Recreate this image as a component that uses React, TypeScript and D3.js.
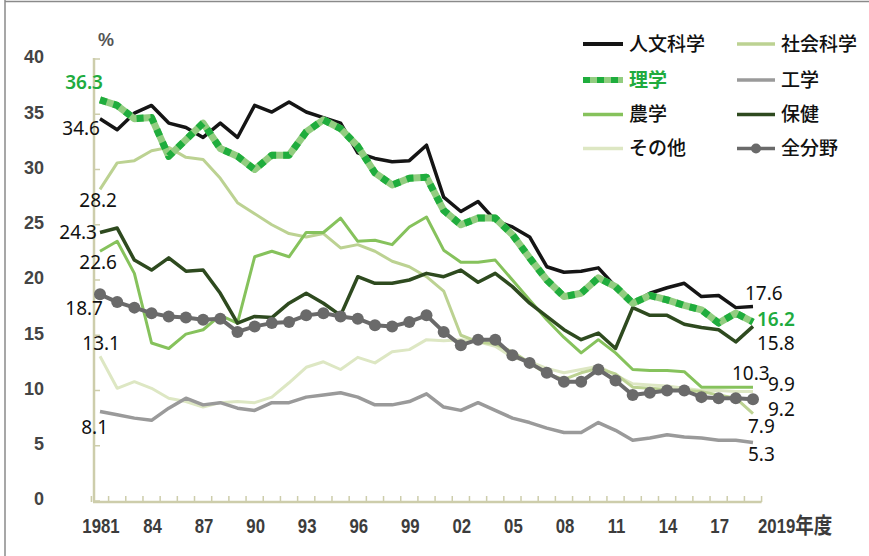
import React from "react";
import * as d3 from "d3";

const years = [1981,1982,1983,1984,1985,1986,1987,1988,1989,1990,1991,1992,1993,1994,1995,1996,1997,1998,1999,2000,2001,2002,2003,2004,2005,2006,2007,2008,2009,2010,2011,2012,2013,2014,2015,2016,2017,2018,2019];

const humanities = [34.6,33.6,35.1,35.8,34.2,33.8,32.9,34.2,32.9,35.8,35.2,36.1,35.2,34.7,34.2,31.5,31.0,30.7,30.8,32.2,27.5,26.2,27.1,25.4,24.8,23.9,21.2,20.7,20.8,21.1,19.4,17.9,18.8,19.3,19.7,18.5,18.6,17.5,17.6];
const social = [28.2,30.6,30.8,31.7,32.0,31.1,30.9,29.2,27.0,26.0,25.0,24.2,23.9,24.2,22.9,23.2,22.6,21.7,21.2,20.3,19.0,15.0,14.4,14.2,13.5,12.5,11.5,11.0,11.6,12.0,11.5,10.3,10.2,10.1,10.0,9.9,9.6,9.3,7.9];
const science = [36.3,35.8,34.6,34.7,31.2,32.7,34.2,31.9,31.2,30.0,31.3,31.3,33.4,34.5,33.7,32.1,29.7,28.6,29.2,29.3,26.3,25.0,25.6,25.6,24.1,22.0,20.0,18.5,18.8,20.2,19.4,17.9,18.6,18.2,17.7,17.3,16.1,17.0,16.2];
const engineering = [8.1,7.8,7.5,7.3,8.4,9.3,8.7,8.9,8.4,8.2,8.9,8.9,9.4,9.6,9.8,9.4,8.7,8.7,9.0,9.7,8.5,8.2,8.9,8.2,7.5,7.1,6.6,6.2,6.2,7.1,6.4,5.5,5.7,6.0,5.8,5.7,5.5,5.5,5.3];
const agriculture = [22.6,23.5,20.6,14.3,13.8,15.1,15.5,16.8,16.1,22.1,22.6,22.1,24.3,24.3,25.6,23.5,23.6,23.2,24.8,25.7,22.7,21.6,21.6,21.8,20.0,18.2,16.4,14.8,13.4,14.6,13.4,11.9,11.8,11.8,11.7,10.3,10.3,10.3,10.3];
const health = [24.3,24.7,21.8,20.9,22.0,20.8,20.9,18.8,16.1,16.7,16.6,17.9,18.8,17.9,16.8,20.3,19.7,19.7,20.0,20.6,20.3,20.9,19.8,20.6,19.4,17.9,16.7,15.5,14.6,15.2,13.8,17.5,16.8,16.8,16.0,15.7,15.5,14.4,15.8];
const other = [13.1,10.2,10.8,10.2,9.3,9.0,8.5,8.9,9.0,8.9,9.4,10.7,12.1,12.6,11.9,13.0,12.5,13.5,13.7,14.6,14.5,14.6,14.4,14.0,13.0,12.6,12.0,11.6,11.9,12.2,11.4,10.6,10.5,10.4,10.2,10.0,10.0,9.9,9.9];
const allFields = [18.7,18.0,17.5,17.0,16.7,16.6,16.4,16.5,15.3,15.8,16.1,16.2,16.8,17.0,16.7,16.5,15.9,15.8,16.2,16.8,15.3,14.1,14.6,14.6,13.2,12.5,11.6,10.8,10.8,11.9,10.9,9.6,9.8,10.0,10.0,9.4,9.3,9.3,9.2];

const seriesNames = ["人文科学", "社会科学", "理学", "工学", "農学", "保健", "その他", "全分野"];
const seriesValues = [humanities, social, science, engineering, agriculture, health, other, allFields];

const yTicks = [0, 5, 10, 15, 20, 25, 30, 35, 40];
const xTickYears = [1981, 1984, 1987, 1990, 1993, 1996, 1999, 2002, 2005, 2008, 2011, 2014, 2017, 2019];
const xTickLabels = ["1981", "84", "87", "90", "93", "96", "99", "02", "05", "08", "11", "14", "17", "2019年度"];

type Style = { color: string; width: number; dash?: boolean; marker?: boolean };
const styles: Record<string, Style> = {
  "人文科学": { color: "#151515", width: 3.5 },
  "社会科学": { color: "#bcd292", width: 3 },
  "理学": { color: "#1fad3d", width: 7, dash: true },
  "工学": { color: "#9a9a9a", width: 3.5 },
  "農学": { color: "#86c25c", width: 3 },
  "保健": { color: "#2e4a1f", width: 3.5 },
  "その他": { color: "#dde7c3", width: 3 },
  "全分野": { color: "#6a6a6a", width: 4, marker: true },
};
const drawOrder = ["その他", "工学", "社会科学", "農学", "保健", "全分野", "人文科学", "理学"];

const startLabelOffsets: Record<string, [number, number]> = {
  "理学": [3, -18], "人文科学": [0, 9], "社会科学": [17, 11], "保健": [-3, 0],
  "農学": [17, 11], "全分野": [3, 14], "その他": [20, -13], "工学": [8, 16],
};
const endLabelOffsets: Record<string, [number, number]> = {
  "人文科学": [-8, -13], "理学": [4, -3], "保健": [4, 17], "農学": [-21, -14],
  "その他": [15, -7], "全分野": [15, 10], "社会科学": [-5, 12], "工学": [-5, 12],
};

const W = 869, H = 556;

export default function App() {
  const x = d3.scaleLinear().domain([1981, 2019]).range([100, 753]);
  const y = d3.scaleLinear().domain([0, 40]).range([501, 59]);
  const line = d3.line<number>().x((_, i) => x(years[i])).y((d) => y(d));

  const axisColor = "#cdcdab";
  const axisX = 94;
  const xAxisEnd = x(2019.5);
  const yearBoundaries = [...years.map((yr) => yr - 0.5), 2019.5];

  const idx = (name: string) => seriesNames.indexOf(name);
  const fmt = (v: number) => v.toFixed(1);
  const labelFont = "'Noto Sans', 'Open Sans', sans-serif";
  const tickFont = "'Liberation Sans', Arial, sans-serif";
  const cjkFont = "'Noto Sans CJK JP', 'Noto Sans', sans-serif";
  const green = "#20ab3e";

  return (
    <svg width={W} height={H} style={{ position: "absolute", left: 0, top: 0, background: "#fff" }}>
      <line x1={5} y1={0} x2={5} y2={H} stroke="#8a8a8a" strokeWidth={1.5} />
      <line x1={5} y1={1.5} x2={W} y2={1.5} stroke="#8a8a8a" strokeWidth={1.5} />

      <line x1={axisX} y1={y(40) - 1} x2={axisX} y2={y(0) + 1} stroke={axisColor} strokeWidth={2.5} />
      <line x1={axisX - 1} y1={y(0) + 1} x2={xAxisEnd} y2={y(0) + 1} stroke={axisColor} strokeWidth={2.5} />
      {yTicks.map((t) => (
        <g key={"yt" + t}>
          <line x1={axisX} x2={axisX + 6} y1={y(t)} y2={y(t)} stroke={axisColor} strokeWidth={1.5} />
          <text x={44} y={y(t) - 2} dy="0.36em" textAnchor="end" fontFamily={tickFont} fontWeight="bold" fontSize={18} fill="#444">
            {t}
          </text>
        </g>
      ))}
      {yearBoundaries.map((b) => (
        <line key={"xt" + b} x1={x(b)} x2={x(b)} y1={y(0) + 1} y2={y(0) - 5} stroke={axisColor} strokeWidth={1.5} />
      ))}
      {xTickYears.map((yr, i) => {
        const last = i === xTickYears.length - 1;
        const tx = last ? x(yr) + 5 : x(yr) + 1;
        return (
          <text
            key={"xl" + yr}
            transform={`translate(${tx},533) scale(0.84,1)`}
            textAnchor={last ? "start" : "middle"}
            fontFamily={tickFont + ", 'Noto Sans CJK JP'"}
            fontWeight="bold"
            fontSize={20}
            fill="#3c3c3c"
          >
            {last ? (
              <>
                <tspan>2019</tspan>
                <tspan fontFamily={cjkFont} fontSize={22}>年度</tspan>
              </>
            ) : (
              xTickLabels[i]
            )}
          </text>
        );
      })}
      <text x={106} y={46} textAnchor="middle" fontFamily={tickFont} fontWeight="bold" fontSize={18} fill="#555">%</text>

      {drawOrder.map((name) => {
        const s = styles[name];
        const vals = seriesValues[idx(name)];
        const d = line(vals) || "";
        if (s.dash) {
          return (
            <g key={name}>
              <path d={d} fill="none" stroke="#92cd80" strokeWidth={s.width} strokeLinejoin="round" />
              <path d={d} fill="none" stroke={s.color} strokeWidth={s.width} strokeDasharray="7 7" strokeLinejoin="round" />
            </g>
          );
        }
        return (
          <g key={name}>
            <path d={d} fill="none" stroke={s.color} strokeWidth={s.width} strokeLinejoin="round" />
            {s.marker && vals.map((v, i) => <circle key={i} cx={x(years[i])} cy={y(v)} r={6} fill={s.color} />)}
          </g>
        );
      })}

      {seriesNames.map((name) => {
        const vals = seriesValues[idx(name)];
        const so = startLabelOffsets[name];
        const eo = endLabelOffsets[name];
        const isSci = name === "理学";
        const common = {
          fontFamily: labelFont,
          fontSize: 19,
          fill: isSci ? green : "#111",
          fontWeight: isSci ? 600 : 400,
        } as const;
        return (
          <g key={"lbl" + name}>
            <text x={x(years[0]) + so[0]} y={y(vals[0]) + so[1]} dy="0.36em" textAnchor="end" {...common}>
              {fmt(vals[0])}
            </text>
            <text x={x(years[years.length - 1]) + eo[0]} y={y(vals[vals.length - 1]) + eo[1]} dy="0.36em" textAnchor="start" {...common}>
              {fmt(vals[vals.length - 1])}
            </text>
          </g>
        );
      })}

      <rect x={578} y={24} width={W - 580} height={142} fill="#fff" />
      {seriesNames.map((name, i) => {
        const s = styles[name];
        const col = i % 2;
        const row = Math.floor(i / 2);
        const lx = col === 0 ? 583 : 737;
        const len = col === 0 ? 40 : 38;
        const ly = [44, 80, 114.5, 148.5][row];
        const isSci = name === "理学";
        return (
          <g key={"lg" + name}>
            {s.dash ? (
              <g>
                <line x1={lx} x2={lx + len} y1={ly} y2={ly} stroke="#92cd80" strokeWidth={6} />
                <line x1={lx} x2={lx + len} y1={ly} y2={ly} stroke={s.color} strokeWidth={6} strokeDasharray="7 7" />
              </g>
            ) : (
              <line x1={lx} x2={lx + len} y1={ly} y2={ly} stroke={s.color} strokeWidth={name === "人文科学" ? 4 : 3.5} />
            )}
            {s.marker && <circle cx={lx + len / 2} cy={ly} r={5} fill={s.color} />}
            <text x={lx + len + 6} y={ly} dy="0.36em" fontFamily={cjkFont} fontSize={19} fontWeight={isSci ? 700 : 500} fill={isSci ? green : "#111"}>
              {name}
            </text>
          </g>
        );
      })}
    </svg>
  );
}
